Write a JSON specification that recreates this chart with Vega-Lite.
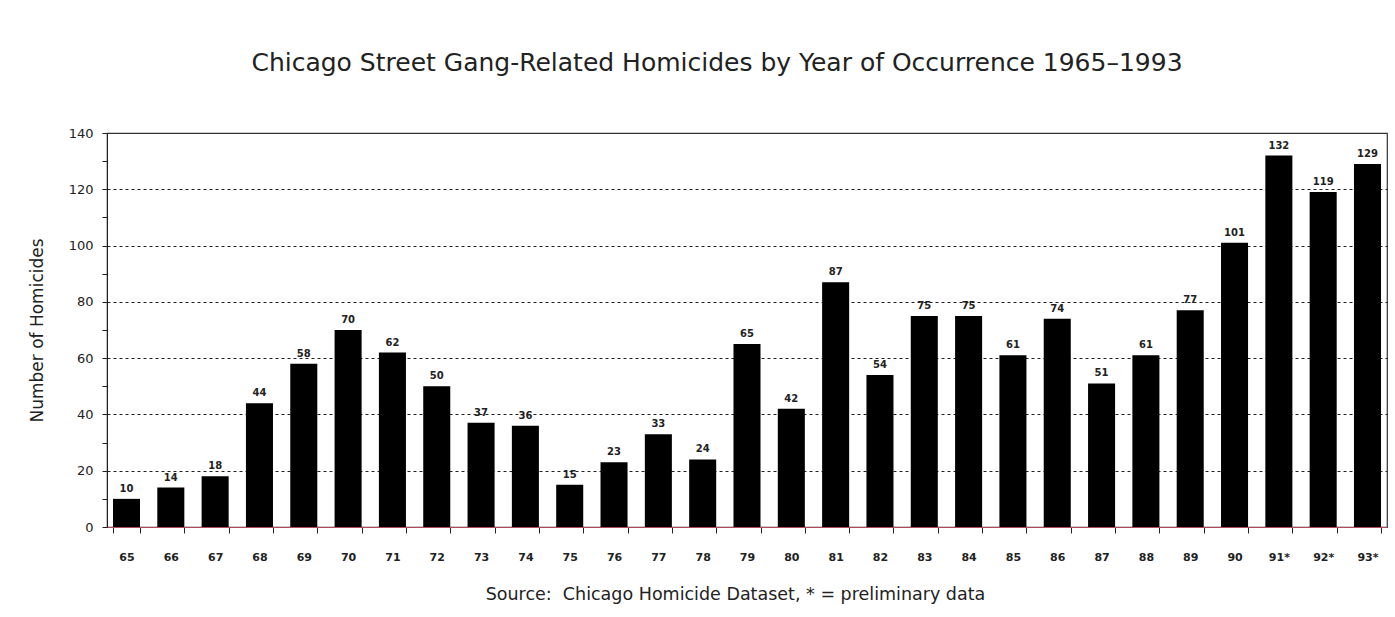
{
  "$schema": "https://vega.github.io/schema/vega-lite/v6.json",
  "autosize": {"type": "none"},
  "width": 1280,
  "height": 394,
  "padding": {"left": 107, "top": 133, "right": 8, "bottom": 90},
  "background": "white",
  "title": {
    "text": "Chicago Street Gang-Related Homicides by Year of Occurrence 1965–1993",
    "anchor": "middle",
    "frame": "group",
    "baseline": "alphabetic",
    "offset": 31,
    "dx": -30,
    "font": "DejaVu Sans",
    "fontSize": 25,
    "fontWeight": "normal",
    "color": "#222222"
  },
  "data": {
    "values": [
      {"year": "65", "homicides": 10},
      {"year": "66", "homicides": 14},
      {"year": "67", "homicides": 18},
      {"year": "68", "homicides": 44},
      {"year": "69", "homicides": 58},
      {"year": "70", "homicides": 70},
      {"year": "71", "homicides": 62},
      {"year": "72", "homicides": 50},
      {"year": "73", "homicides": 37},
      {"year": "74", "homicides": 36},
      {"year": "75", "homicides": 15},
      {"year": "76", "homicides": 23},
      {"year": "77", "homicides": 33},
      {"year": "78", "homicides": 24},
      {"year": "79", "homicides": 65},
      {"year": "80", "homicides": 42},
      {"year": "81", "homicides": 87},
      {"year": "82", "homicides": 54},
      {"year": "83", "homicides": 75},
      {"year": "84", "homicides": 75},
      {"year": "85", "homicides": 61},
      {"year": "86", "homicides": 74},
      {"year": "87", "homicides": 51},
      {"year": "88", "homicides": 61},
      {"year": "89", "homicides": 77},
      {"year": "90", "homicides": 101},
      {"year": "91*", "homicides": 132},
      {"year": "92*", "homicides": 119},
      {"year": "93*", "homicides": 129}
    ]
  },
  "encoding": {
    "x": {
      "field": "year",
      "type": "nominal",
      "sort": null,
      "scale": {"paddingInner": 0.39, "paddingOuter": 0.135},
      "axis": {
        "title": "Source:\u00a0 Chicago Homicide Dataset, * = preliminary data",
        "titleFont": "DejaVu Sans",
        "titleFontSize": 17.5,
        "titleFontWeight": "normal",
        "titleColor": "#222222",
        "titlePadding": 23,
        "titleAnchor": "middle",
        "titleX": 628,
        "labelAngle": 0,
        "labelFont": "DejaVu Sans",
        "labelFontSize": 11,
        "labelFontWeight": "bold",
        "labelColor": "#222222",
        "labelPadding": 18,
        "tickBand": "extent",
        "tickSize": 6,
        "tickColor": "#222222",
        "domainColor": "#b04a5a",
        "domainWidth": 1.2
      }
    },
    "y": {
      "field": "homicides",
      "type": "quantitative",
      "scale": {"domain": [0, 140], "nice": false},
      "axis": {
        "title": "Number of Homicides",
        "titleFont": "DejaVu Sans",
        "titleFontSize": 17,
        "titleFontWeight": "normal",
        "titleColor": "#222222",
        "titlePadding": 22,
        "values": [0, 10, 20, 30, 40, 50, 60, 70, 80, 90, 100, 110, 120, 130, 140],
        "labelExpr": "datum.value % 20 === 0 ? datum.label : ''",
        "labelFont": "DejaVu Sans",
        "labelFontSize": 13,
        "labelColor": "#222222",
        "labelPadding": 9,
        "tickSize": 5,
        "tickColor": "#222222",
        "domainColor": "#222222",
        "grid": true,
        "gridColor": "#222222",
        "gridDash": [3, 3],
        "gridWidth": 1.2,
        "gridOpacity": {
          "condition": {"test": "datum.value % 20 !== 0 || datum.value === 0 || datum.value === 140", "value": 0},
          "value": 1
        }
      }
    }
  },
  "layer": [
    {
      "mark": {"type": "bar", "color": "#000000"}
    },
    {
      "mark": {
        "type": "text",
        "baseline": "alphabetic",
        "dy": -7,
        "font": "DejaVu Sans",
        "fontSize": 10,
        "fontWeight": "bold",
        "color": "#222222"
      },
      "encoding": {
        "text": {"field": "homicides", "type": "quantitative"}
      }
    }
  ],
  "config": {
    "view": {"stroke": "#333333", "strokeWidth": 1.2}
  }
}
